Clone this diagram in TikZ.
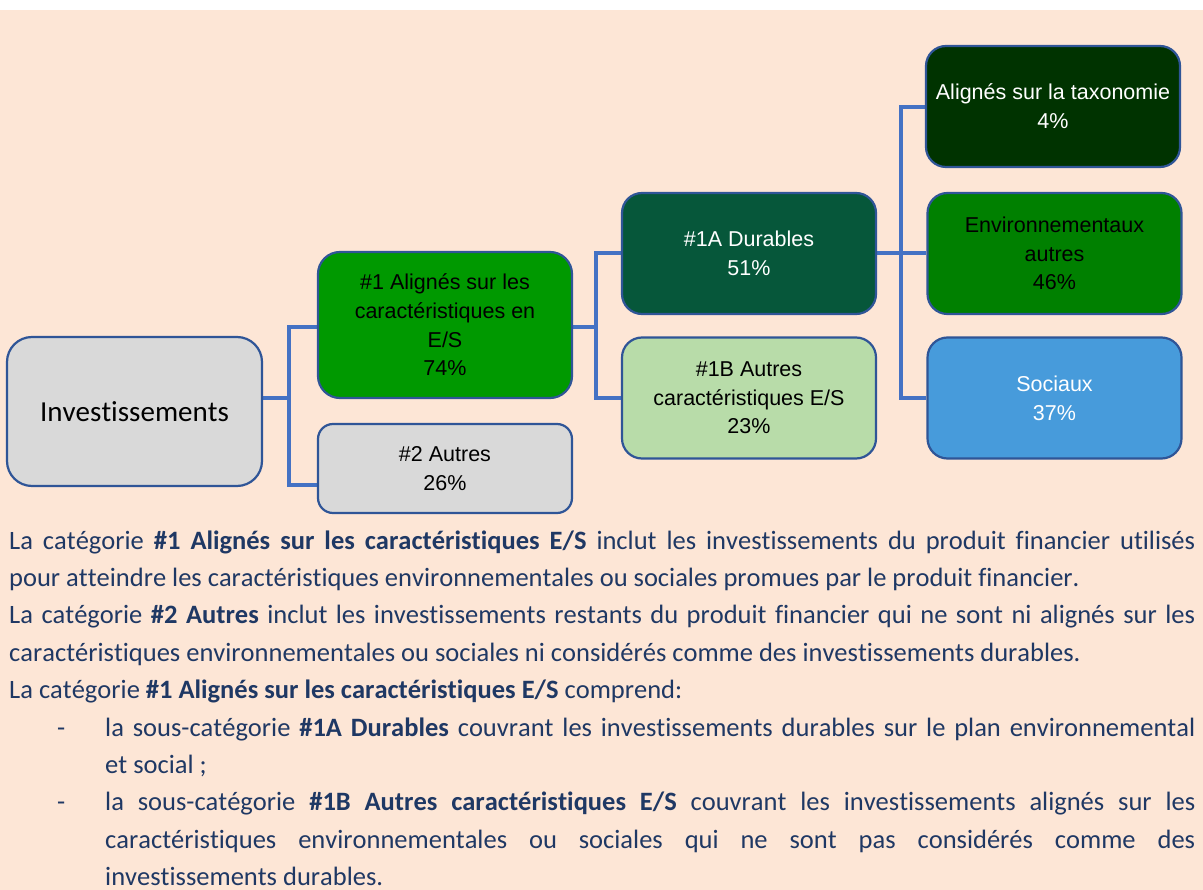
\documentclass[tikz,border=0pt]{standalone}
\usepackage{fontspec}
\setmainfont{Carlito}[Ligatures=NoCommon, Kerning=Off]
\newfontfamily\arialf{Liberation Sans}
\usetikzlibrary{backgrounds}
\definecolor{peach}{HTML}{FDE6D6}
\definecolor{bordc}{HTML}{2F5597}
\definecolor{connc}{HTML}{4472C4}
\definecolor{greyf}{HTML}{D9D9D9}
\definecolor{gOne}{HTML}{009900}
\definecolor{gOneA}{HTML}{06573A}
\definecolor{gOneB}{HTML}{B8DCA9}
\definecolor{gTaxo}{HTML}{003300}
\definecolor{gEnv}{HTML}{008000}
\definecolor{bSoc}{HTML}{479BDB}
\definecolor{textc}{HTML}{1F3864}
\tikzset{
  box/.style={draw=bordc, line width=2.2pt, rounded corners=20pt, inner sep=0pt,
    align=center, minimum width=254pt, minimum height=121pt,
    font=\arialf\fontsize{21.5}{28.7}\selectfont},
  conn/.style={draw=connc, line width=4pt},
  tl/.style={inner sep=0pt, anchor=base west, text=textc,
    font=\fontsize{26.5}{37.4}\selectfont},
}
\begin{document}
\begin{tikzpicture}[x=1pt,y=-1pt]
\useasboundingbox (0,0) rectangle (1203,890);
% boxes
\node[box, fill=greyf, rounded corners=25pt, minimum width=255pt, minimum height=149pt,
  font=\fontsize{29}{34}\selectfont] (inv) at (134.5,411.5) {Investissements};
\node[box, fill=gOne, rounded corners=22pt, minimum height=146pt] (n1) at (445,325)
  {\#1 Alignés sur les\\caractéristiques en\\E/S\\74\%};
\node[box, fill=greyf, rounded corners=15pt, minimum height=89pt] (n2) at (445,468.5)
  {\#2 Autres\\26\%};
\node[box, fill=gOneA, text=white] (n1a) at (749,253.5) {\#1A Durables\\51\%};
\node[box, fill=gOneB] (n1b) at (749,398) {\#1B Autres\\caractéristiques E/S\\23\%};
\node[box, fill=gTaxo, text=white] (taxo) at (1053,106.5) {Alignés sur la taxonomie\\4\%};
\node[box, fill=gEnv] (env) at (1054.5,253.5) {Environnementaux\\autres\\46\%};
\node[box, fill=bSoc, text=white] (soc) at (1054.5,398) {Sociaux\\37\%};
% junction coordinates
\coordinate (j1) at (289,398);
\coordinate (j1t) at (289,327);
\coordinate (j1b) at (289,485);
\coordinate (j2) at (596,327);
\coordinate (j2t) at (596,253);
\coordinate (j2b) at (596,398);
\coordinate (j3) at (901,253);
\coordinate (j3t) at (901,107);
\coordinate (j3b) at (901,398);
\begin{pgfonlayer}{background}
  \fill[white] (0,0) rectangle (1203,10);
  \fill[peach] (0,10) rectangle (1203,890);
  \draw[conn] (inv.east |- j1) -- (j1);
  \draw[conn] (n1.west |- j1t) -- (j1t) -- (j1b) -- (n2.west |- j1b);
  \draw[conn] (n1.east |- j2) -- (j2);
  \draw[conn] (n1a.west |- j2t) -- (j2t) -- (j2b) -- (n1b.west |- j2b);
  \draw[conn] (n1a.east |- j3) -- (env.west |- j3);
  \draw[conn] (taxo.west |- j3t) -- (j3t) -- (j3b) -- (soc.west |- j3b);
\end{pgfonlayer}
% text lines
\node[tl] (l1) at (9,549) {\makebox[1186pt][s]{La catégorie \textbf{\#1 Alignés sur les caractéristiques E/S} inclut les investissements du produit financier utilisés}};
\node[tl] (l2) at (9,586.4) {pour atteindre les caractéristiques environnementales ou sociales promues par le produit financier.};
\node[tl] (l3) at (9,623.8) {\makebox[1186pt][s]{La catégorie \textbf{\#2 Autres} inclut les investissements restants du produit financier qui ne sont ni alignés sur les}};
\node[tl] (l4) at (9,661.2) {caractéristiques environnementales ou sociales ni considérés comme des investissements durables.};
\node[tl] (l5) at (9,698.6) {La catégorie \textbf{\#1 Alignés sur les caractéristiques E/S} comprend:};
\node[tl] (d1) at (57,736) {-};
\node[tl] (l6) at (105,736) {\makebox[1090pt][s]{la sous-catégorie \textbf{\#1A Durables} couvrant les investissements durables sur le plan environnemental}};
\node[tl] (l7) at (105,773.4) {et social ;};
\node[tl] (d2) at (57,810.8) {-};
\node[tl] (l8) at (105,810.8) {\makebox[1090pt][s]{la sous-catégorie \textbf{\#1B Autres caractéristiques E/S} couvrant les investissements alignés sur les}};
\node[tl] (l9) at (105,848.2) {\makebox[1090pt][s]{caractéristiques environnementales ou sociales qui ne sont pas considérés comme des}};
\node[tl] (l10) at (105,885.6) {investissements durables.};
\end{tikzpicture}
\end{document}
